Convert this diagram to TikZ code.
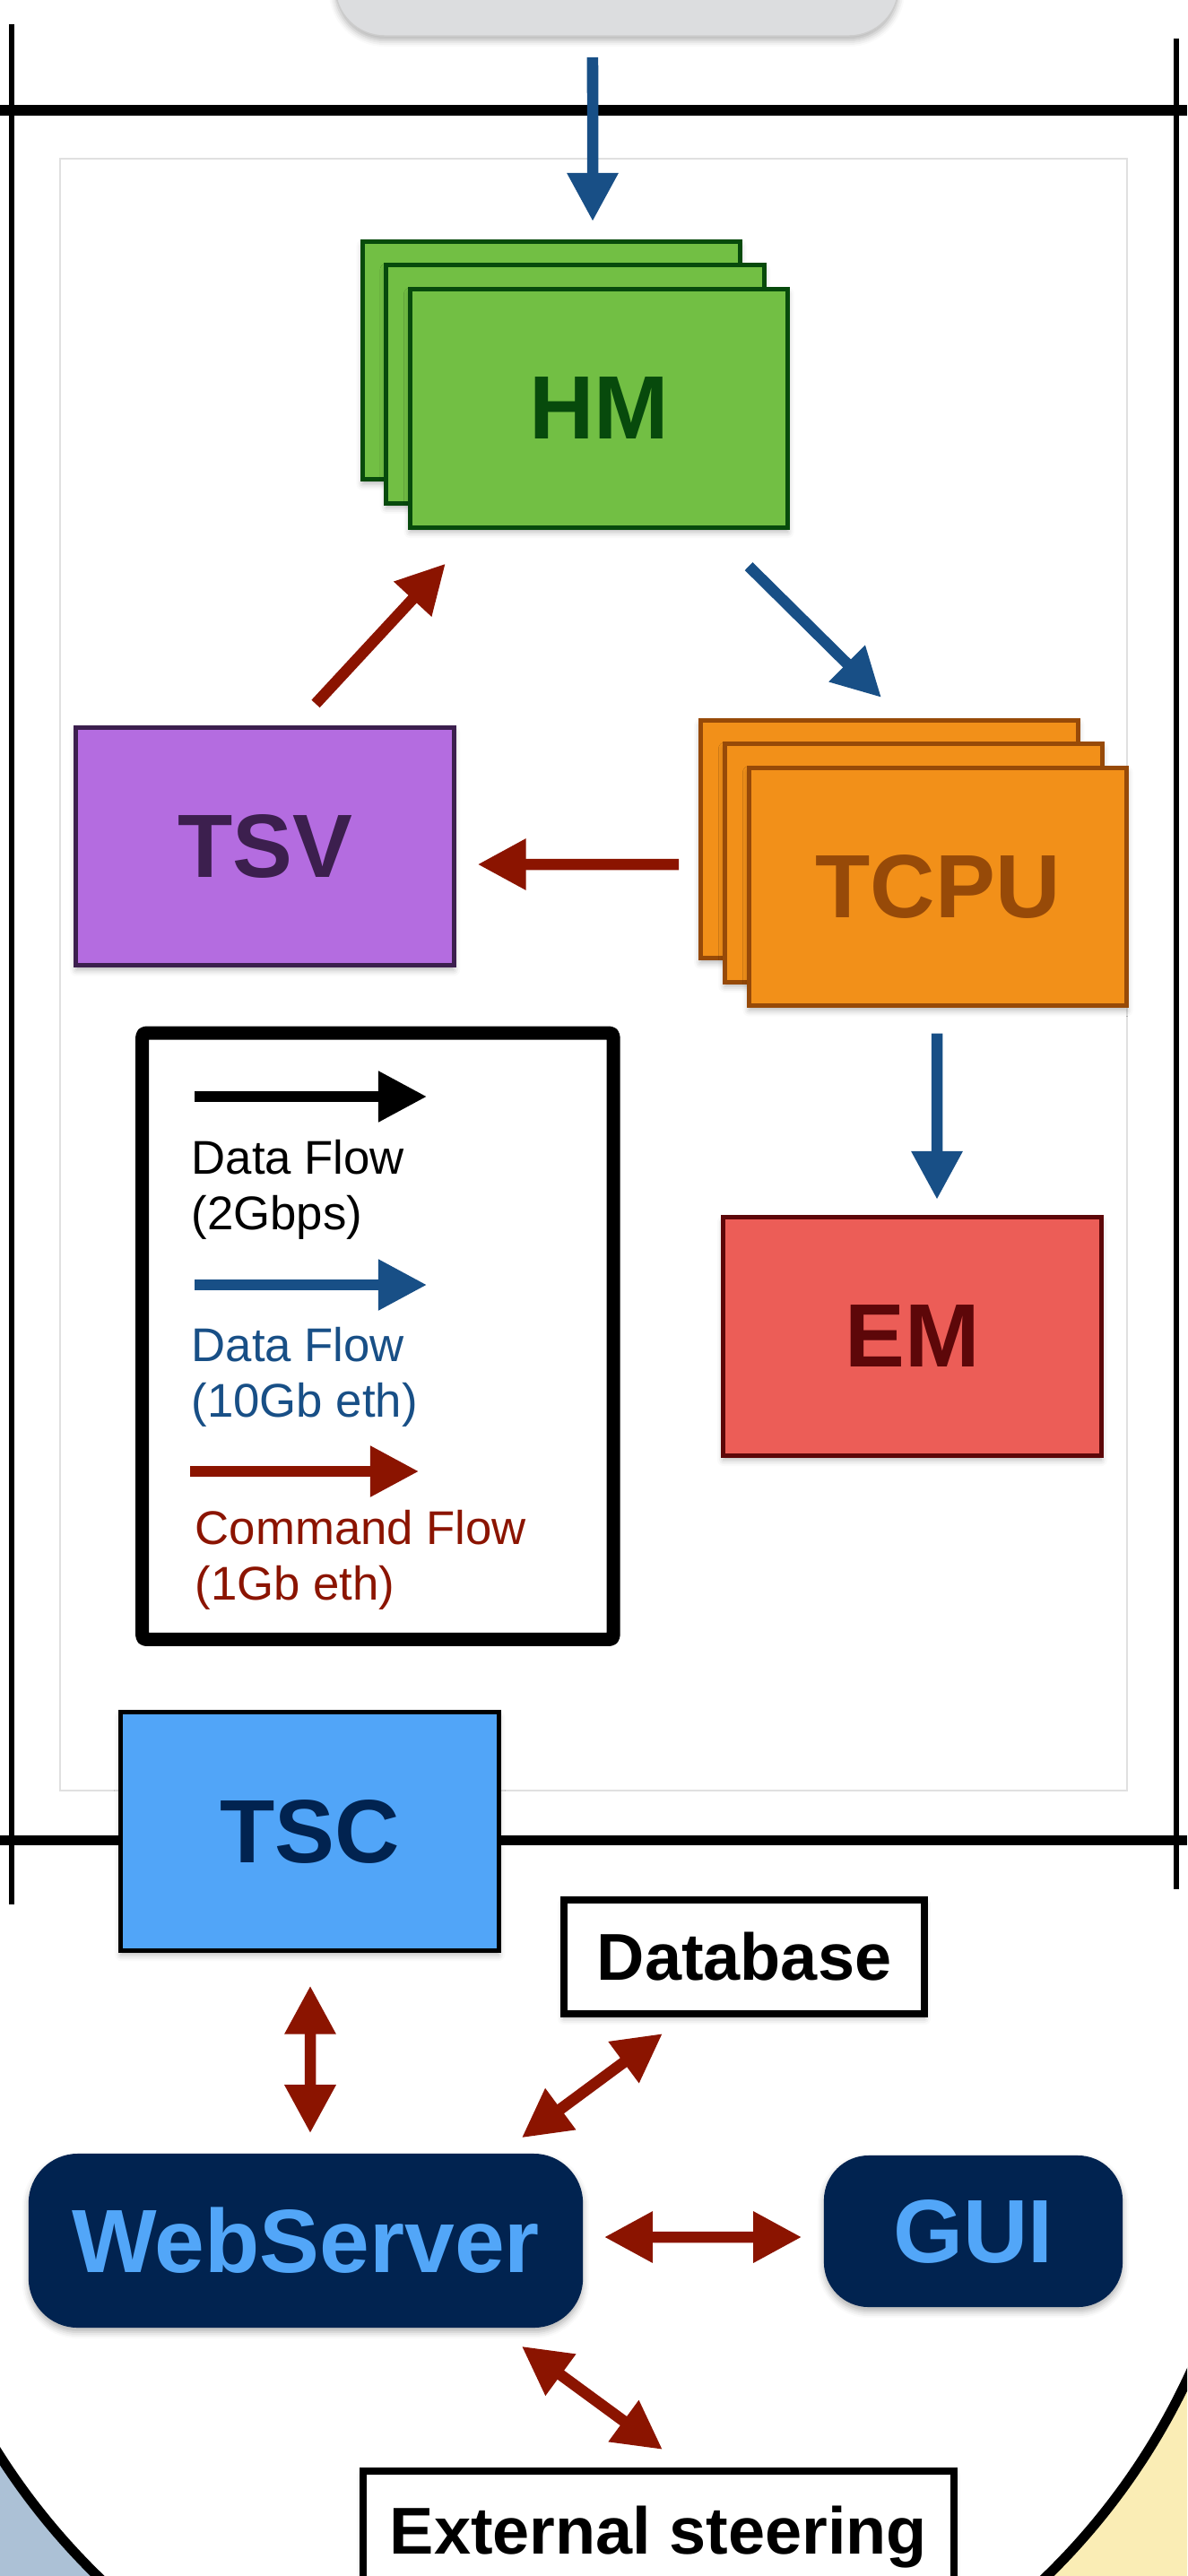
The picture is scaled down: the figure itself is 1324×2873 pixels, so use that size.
\documentclass[tikz,border=0pt]{standalone}
\usepackage{fontspec}
\setmainfont{Liberation Sans}
\usetikzlibrary{arrows.meta,shadows.blur}

\definecolor{flowblue}{HTML}{184F86}
\definecolor{cmdred}{HTML}{8B1400}
\definecolor{hmfill}{HTML}{72BF44}
\definecolor{hmdark}{HTML}{074A0C}
\definecolor{cpufill}{HTML}{F29019}
\definecolor{cpudark}{HTML}{974A08}
\definecolor{svfill}{HTML}{B46CE0}
\definecolor{svdark}{HTML}{3C1F4E}
\definecolor{emfill}{HTML}{EC5D57}
\definecolor{emdark}{HTML}{5D0709}
\definecolor{scfill}{HTML}{51A5F8}
\definecolor{navy}{HTML}{012350}
\definecolor{skyblue}{HTML}{52A6F8}
\definecolor{srcgray}{HTML}{DCDDDF}
\definecolor{leftzone}{HTML}{ACC1D6}
\definecolor{rightzone}{HTML}{FAEDB5}

\newcommand\boxlabelfont{\fontsize{28.5pt}{30pt}\selectfont\bfseries}
\newcommand\tagfont{\fontsize{21pt}{23pt}\selectfont\bfseries}
\newcommand\legendfont{\fontsize{15pt}{17.6pt}\selectfont}

\tikzset{
  softshadow/.style={blur shadow={shadow xshift=0cm, shadow yshift=-0.05cm,
      shadow blur radius=0.07cm, shadow opacity=30}},
  card/.style={draw, line width=0.05cm, minimum width=4.21cm, minimum height=2.65cm,
      inner sep=0pt, font=\boxlabelfont, softshadow},
  tagbox/.style={draw=black, fill=white, line width=0.08cm, inner sep=0pt,
      font=\tagfont, softshadow},
  pill/.style={fill=navy, text=skyblue, inner sep=0pt, font=\boxlabelfont, softshadow},
  dataflow/.style={draw=flowblue, line width=0.125cm, -{Triangle[length=0.54cm, width=0.54cm]}},
  cmdflow/.style={draw=cmdred, line width=0.125cm, -{Triangle[length=0.54cm, width=0.54cm]}},
  cmdboth/.style={draw=cmdred, line width=0.125cm,
      {Triangle[length=0.54cm, width=0.54cm]}-{Triangle[length=0.54cm, width=0.54cm]}},
  legtext/.style={anchor=base west, inner sep=0pt, font=\legendfont},
}

\begin{document}
\begin{tikzpicture}[x=0.01cm, y=-0.01cm]
\useasboundingbox (0,0) rectangle (1324,2873);
\clip (0,0) rectangle (1324,2873);

% outer frame lines of the processing zone
\draw[line width=0.12cm] (0,123) -- (1324,123);
\draw[line width=0.11cm] (0,2052) -- (1324,2052);
\draw[line width=0.06cm] (13,27) -- (13,2124);
\draw[line width=0.06cm] (1312,43) -- (1312,2107);
\draw[draw=black!12, line width=0.012cm] (67,177) rectangle (1257,1997);

% shaded zones at the bottom corners, outside the big circle
\fill[leftzone] (-20,2706.3) arc[start angle=209.76, end angle=228.76, radius=7.58cm]
     -- (-20,2900) -- cycle;
\fill[rightzone] (1137.7,2900) arc[start angle=-48.76, end angle=-21.34, radius=7.58cm]
     -- (1344,2900) -- cycle;
\draw[line width=0.11cm] (-20,2706.3) arc[start angle=209.76, end angle=338.66, radius=7.58cm];

% upstream source block
\node[fill=srcgray, draw=black!20, line width=0.015cm, rounded corners=0.55cm,
      minimum width=6.28cm, minimum height=1.2cm, softshadow] (src) at (688,-20) {};

% HM stack
\node[card, fill=hmfill, draw=hmdark] (hm1) at (615,402) {};
\node[card, fill=hmfill, draw=hmdark] (hm2) at (641.5,428.5) {};
\node[card, fill=hmfill, draw=hmdark, text=hmdark] (hm) at (668,455.5) {HM};

% TCPU stack
\node[card, fill=cpufill, draw=cpudark] (tcpu1) at (991.75,936) {};
\node[card, fill=cpufill, draw=cpudark] (tcpu2) at (1019,962.5) {};
\node[card, fill=cpufill, draw=cpudark, text=cpudark] (tcpu) at (1046,989) {TCPU};

\node[card, fill=svfill, draw=svdark, text=svdark] (tsv) at (295.5,944) {TSV};
\node[card, fill=emfill, draw=emdark, text=emdark] (em) at (1017.5,1490.5) {EM};

% legend
\node[draw=black, line width=0.15cm, line join=round, rounded corners=0.04cm,
      minimum width=5.25cm, minimum height=6.76cm] (legend) at (421.35,1490.25) {};
\coordinate (lgAa) at (217,1223); \coordinate (lgAb) at (476,1223);
\coordinate (lgBa) at (217,1433); \coordinate (lgBb) at (476,1433);
\coordinate (lgCa) at (212,1641); \coordinate (lgCb) at (467,1641);
\draw[draw=black, line width=0.115cm, -{Triangle[length=0.54cm, width=0.54cm]}] (lgAa) -- (lgAb);
\draw[dataflow, line width=0.115cm] (lgBa) -- (lgBb);
\draw[cmdflow, line width=0.115cm] (lgCa) -- (lgCb);
\node[legtext] (lgA1) at (213,1309) {Data Flow};
\node[legtext] (lgA2) at (213,1371) {(2Gbps)};
\node[legtext, text=flowblue] (lgB1) at (213,1518) {Data Flow};
\node[legtext, text=flowblue] (lgB2) at (213,1580) {(10Gb eth)};
\node[legtext, text=cmdred] (lgC1) at (217,1722) {Command Flow};
\node[legtext, text=cmdred] (lgC2) at (217,1784) {(1Gb eth)};

% control side
\node[card, fill=scfill, draw=black, text=navy] (tsc) at (345.5,2042.5) {TSC};
\node[tagbox, minimum width=4.02cm, minimum height=1.27cm] (db) at (830,2182.5) {Database};
\node[pill, rounded corners=0.55cm, minimum width=6.18cm, minimum height=1.94cm] (web) at (341,2499) {WebServer};
\node[pill, rounded corners=0.5cm, minimum width=3.33cm, minimum height=1.69cm] (gui) at (1085.5,2488.5) {GUI};
\node[tagbox, minimum width=6.59cm, minimum height=1.32cm, text depth=0pt] (ext) at (734.5,2822) {External steering};

% data connections
\draw[dataflow] ([xshift=-0.27cm,yshift=-0.23cm]src.south) -- ([xshift=0.46cm,yshift=0.20cm]hm1.north);
\draw[dataflow] ([xshift=-0.46cm,yshift=-0.41cm]hm.south east) -- ([xshift=-0.0875cm,yshift=0.23cm]tcpu1.north);
\draw[dataflow] ([xshift=-0.01cm,yshift=-0.285cm]tcpu.south) -- ([xshift=0.275cm,yshift=0.175cm]em.north);

% command connections
\draw[cmdflow] ([xshift=-0.215cm,yshift=-0.28cm]tcpu1.west) -- ([xshift=0.24cm,yshift=-0.20cm]tsv.east);
\draw[cmdflow] ([xshift=0.565cm,yshift=0.24cm]tsv.north) -- ([xshift=0.42cm,yshift=-0.38cm]hm.south west);
\draw[cmdboth] ([xshift=0.005cm,yshift=-0.37cm]tsc.south) -- ([xshift=0.05cm,yshift=0.22cm]web.north);
\draw[cmdboth] ([xshift=-0.69cm,yshift=0.17cm]web.north east) -- ([xshift=-0.91cm,yshift=-0.18cm]db.south);
\draw[cmdboth] ([xshift=0.23cm,yshift=0.04cm]web.east) -- ([xshift=-0.24cm,yshift=-0.065cm]gui.west);
\draw[cmdboth] ([xshift=-0.69cm,yshift=-0.20cm]web.south east) -- ([xshift=0.045cm,yshift=0.20cm]ext.north);
\end{tikzpicture}
\end{document}
